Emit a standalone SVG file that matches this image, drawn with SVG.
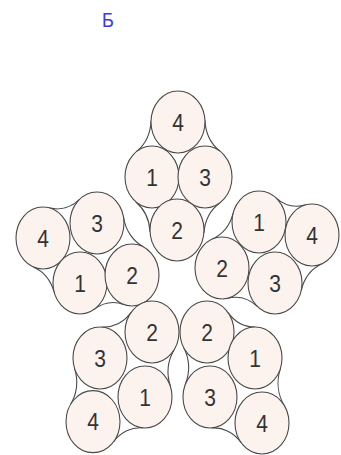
<svg xmlns="http://www.w3.org/2000/svg" width="341" height="455" viewBox="0 0 341 455">
<style>
.c{fill:#fcf3ee;stroke:#4a4a4a;stroke-width:1.1;vector-effect:non-scaling-stroke}
.f{fill:none;stroke:#4a4a4a;stroke-width:1.1;vector-effect:non-scaling-stroke}
.t{font-family:"Liberation Sans",Arial,sans-serif;font-size:21px;fill:#333;text-anchor:middle}
.h{font-family:"Liberation Sans",Arial,sans-serif;font-size:18px;fill:#3a3ae8;text-anchor:middle}
</style>
<rect width="341" height="455" fill="#fff"/>
<g transform="scale(1,1.148)">
<text id="title" class="h" x="108" y="23.5">Б</text>
<g id="connectors">
<path class="f" transform="translate(178,106.3) rotate(60.6)" d="M11.98,-24.2 A35,35 0 0 0 43.02,-24.2"/>
<path class="f" transform="translate(205,154.2) rotate(121.3)" d="M11.74,-24.32 A35,35 0 0 0 42.16,-24.32"/>
<path class="f" transform="translate(177,200.3) rotate(-118.5)" d="M11.41,-24.47 A35,35 0 0 0 40.99,-24.47"/>
<path class="f" transform="translate(152,154.2) rotate(-61.5)" d="M11.87,-24.25 A35,35 0 0 0 42.63,-24.25"/>
<path class="f" transform="translate(43,207.3) rotate(-13.5)" d="M12.09,-24.15 A35,35 0 0 0 43.41,-24.15"/>
<path class="f" transform="translate(97,194.3) rotate(52.2)" d="M12.46,-23.96 A35,35 0 0 0 44.74,-23.96"/>
<path class="f" transform="translate(132,239.5) rotate(172.3)" d="M11.43,-24.46 A35,35 0 0 0 41.07,-24.46"/>
<path class="f" transform="translate(80,246.5) rotate(-133.3)" d="M11.74,-24.32 A35,35 0 0 0 42.16,-24.32"/>
<path class="f" transform="translate(259,193.4) rotate(12)" d="M11.8,-24.28 A35,35 0 0 0 42.4,-24.28"/>
<path class="f" transform="translate(312,204.7) rotate(131.5)" d="M12.15,-24.11 A35,35 0 0 0 43.65,-24.11"/>
<path class="f" transform="translate(275,246.5) rotate(-166.1)" d="M11.89,-24.24 A35,35 0 0 0 42.71,-24.24"/>
<path class="f" transform="translate(222,233.4) rotate(-47.2)" d="M11.87,-24.25 A35,35 0 0 0 42.63,-24.25"/>
<path class="f" transform="translate(152,289.2) rotate(97)" d="M12.41,-23.98 A35,35 0 0 0 44.59,-23.98"/>
<path class="f" transform="translate(145,345.8) rotate(157.5)" d="M12.26,-24.06 A35,35 0 0 0 44.04,-24.06"/>
<path class="f" transform="translate(93,367.3) rotate(-82.8)" d="M12.17,-24.1 A35,35 0 0 0 43.73,-24.1"/>
<path class="f" transform="translate(100,311.8) rotate(-23.5)" d="M12.35,-24.01 A35,35 0 0 0 44.35,-24.01"/>
<path class="f" transform="translate(207,289.2) rotate(25.2)" d="M11.56,-24.4 A35,35 0 0 0 41.54,-24.4"/>
<path class="f" transform="translate(255,311.8) rotate(83)" d="M12.43,-23.97 A35,35 0 0 0 44.67,-23.97"/>
<path class="f" transform="translate(262,368.5) rotate(-156.4)" d="M12.35,-24.01 A35,35 0 0 0 44.35,-24.01"/>
<path class="f" transform="translate(210,345.8) rotate(-93)" d="M12.35,-24.01 A35,35 0 0 0 44.35,-24.01"/>
</g>
<g id="top-4"><circle class="c" cx="178" cy="106.3" r="27"/><text class="t" x="178" y="113.8">4</text></g>
<g id="top-1"><circle class="c" cx="152" cy="154.2" r="27"/><text class="t" x="152" y="161.7">1</text></g>
<g id="top-3"><circle class="c" cx="205" cy="154.2" r="27"/><text class="t" x="205" y="161.7">3</text></g>
<g id="top-2"><circle class="c" cx="177" cy="200.3" r="27"/><text class="t" x="177" y="207.8">2</text></g>
<g id="left-4"><circle class="c" cx="43" cy="207.3" r="27"/><text class="t" x="43" y="214.8">4</text></g>
<g id="left-3"><circle class="c" cx="97" cy="194.3" r="27"/><text class="t" x="97" y="201.8">3</text></g>
<g id="left-1"><circle class="c" cx="80" cy="246.5" r="27"/><text class="t" x="80" y="254">1</text></g>
<g id="left-2"><circle class="c" cx="132" cy="239.5" r="27"/><text class="t" x="132" y="247">2</text></g>
<g id="right-1"><circle class="c" cx="259" cy="193.4" r="27"/><text class="t" x="259" y="200.9">1</text></g>
<g id="right-4"><circle class="c" cx="312" cy="204.7" r="27"/><text class="t" x="312" y="212.2">4</text></g>
<g id="right-2"><circle class="c" cx="222" cy="233.4" r="27"/><text class="t" x="222" y="240.9">2</text></g>
<g id="right-3"><circle class="c" cx="275" cy="246.5" r="27"/><text class="t" x="275" y="254">3</text></g>
<g id="bl-2"><circle class="c" cx="152" cy="289.2" r="27"/><text class="t" x="152" y="296.7">2</text></g>
<g id="bl-3"><circle class="c" cx="100" cy="311.8" r="27"/><text class="t" x="100" y="319.3">3</text></g>
<g id="bl-1"><circle class="c" cx="145" cy="345.8" r="27"/><text class="t" x="145" y="353.3">1</text></g>
<g id="bl-4"><circle class="c" cx="93" cy="367.3" r="27"/><text class="t" x="93" y="374.8">4</text></g>
<g id="br-2"><circle class="c" cx="207" cy="289.2" r="27"/><text class="t" x="207" y="296.7">2</text></g>
<g id="br-1"><circle class="c" cx="255" cy="311.8" r="27"/><text class="t" x="255" y="319.3">1</text></g>
<g id="br-3"><circle class="c" cx="210" cy="345.8" r="27"/><text class="t" x="210" y="353.3">3</text></g>
<g id="br-4"><circle class="c" cx="262" cy="368.5" r="27"/><text class="t" x="262" y="376">4</text></g>
</g>
</svg>
